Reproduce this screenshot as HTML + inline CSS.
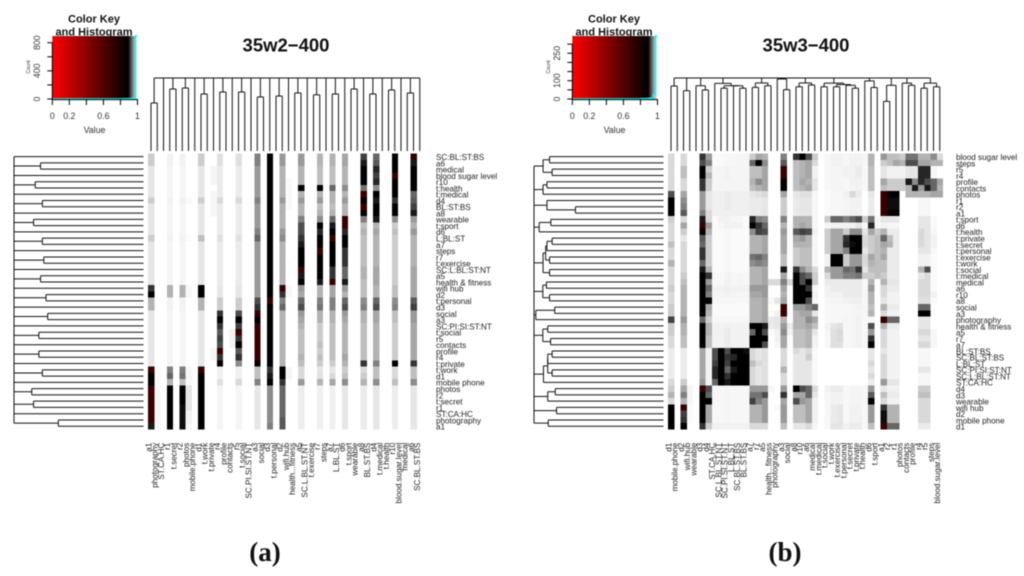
<!DOCTYPE html>
<html>
<head>
<meta charset="utf-8">
<title>35w2-400 and 35w3-400 heatmaps</title>
<style>
html,body{margin:0;padding:0;background:#fff;}
svg{display:block;font-family:"Liberation Sans",sans-serif;filter:blur(0.4px);}
.lab{font-size:8.1px;fill:#222;}
.tk{font-size:8.8px;fill:#333;}
.ttl{font-size:11px;font-weight:bold;fill:#111;text-anchor:middle;}
.main{font-size:18.5px;font-weight:bold;fill:#111;text-anchor:middle;}
.cap{font-family:"Liberation Serif",serif;font-size:27px;font-weight:bold;fill:#111;text-anchor:middle;}
</style>
</head>
<body>
<svg id="fig" width="1024" height="576" viewBox="0 0 1024 576" xmlns="http://www.w3.org/2000/svg">
<defs>
<linearGradient id="keyGrad" x1="0" x2="1" y1="0" y2="0">
<stop offset="0" stop-color="#ff0000"/><stop offset="0.89" stop-color="#000000"/><stop offset="1" stop-color="#ffffff"/>
</linearGradient>
</defs>
<text class="cap" x="265" y="561">(a)</text>
<text class="cap" x="785" y="561">(b)</text>
</svg>
<script>
// ---------- labels ----------
const rowLabelsA = ["SC:BL:ST:BS","a6","medical","blood sugar level","r10","t:health","t:medical","d4","BL:ST:BS","a8","wearable","t:sport","d6","L:BL:ST","a7","steps","r7","t:exercise","SC:L:BL:ST:NT","a5","health & fitness","wifi hub","d2","t:personal","d3","social","a3","SC:PI:SI:ST:NT","t:social","r5","contacts","profile","r4","t:private","t:work","d1","mobile phone","photos","r2","t:secret","r1","ST:CA:HC","photography","a1"];
const colLabelsA = ["a1","photography","ST.CA.HC","r1","t.secret","r2","photos","mobile.phone","d1","t.work","t.private","r4","profile","contacts","r5","t.social","SC.PI.SI.ST.NT","a3","social","d3","t.personal","d2","wifi.hub","health...fitness","a5","SC.L.BL.ST.NT","t.exercise","r7","steps","a7","L.BL.ST","d6","t.sport","wearable","a8","BL.ST.BS","d4","t.medical","t.health","r10","blood.sugar.level","medical","a6","SC.BL.ST.BS"];
const rowLabelsB = ["blood sugar level","steps","r5","r4","profile","contacts","photos","r1","r2","a1","t:sport","d6","t:health","t:private","t:secret","t:personal","t:exercise","t:work","t:social","t:medical","medical","a6","r10","a8","social","a3","photography","health & fitness","a5","r7","a7","BL:ST:BS","SC:BL:ST:BS","L:BL:ST","SC:PI:SI:ST:NT","SC:L:BL:ST:NT","ST:CA:HC","d4","d3","wearable","wifi hub","d2","mobile phone","d1"];
const colLabelsB = ["d1","mobile.phone","d2","wifi.hub","wearable","d3","d4","ST.CA.HC","SC.L.BL.ST.NT","SC.PI.SI.ST.NT","L.BL.ST","SC.BL.ST.BS","BL.ST.BS","a7","r7","a5","health...fitness","photography","a3","social","a8","r10","a6","medical","t.medical","t.social","t.work","t.exercise","t.personal","t.secret","t.private","t.health","d6","t.sport","a1","r2","r1","photos","contacts","profile","r4","r5","steps","blood.sugar.level"];

// ---------- heatmap A: darkness per column (0 white .. 10 black, 11 dark red) ----------
const heatColumnsA = [0,1,3,5,6,8,10,11,13,14,17,19,21,22,24,27,29,31,34,36,39,42];
const heatValuesA = [
[2,2,1,1,1,1,1,2,1,1,1,1,1,2,1,1,1,1,1,1,1,8,10,3,3,1,1,1,1,1,1,1,1,1,11,10,10,11,11,11,11,11,11,9],
[0,0,0,0,0,0,0,0,0,0,0,0,0,0,0,0,0,0,0,0,0,0,0,0,0,0,0,0,0,0,0,0,0,0,.3,.3,.3,.3,.3,.3,.3,.3,.3,.3],
[.5,.5,.4,.4,.4,.4,.4,.5,.4,.4,.4,.4,.4,.5,.4,.4,.4,.4,.4,.4,.4,3,3,.5,.5,.4,.4,.4,.4,.4,.4,.4,.4,.4,5,6,3,10,10,10,10,10,10,10],
[.5,.5,.4,.4,.4,.4,.4,.6,.4,.4,.4,.4,.4,.5,.4,.4,.4,.4,.4,.4,.4,3,3,.5,.5,.4,.4,.4,.4,.4,.4,.4,.4,.4,5,5.5,2.5,10,10,10,9.5,9.5,9.5,9.5],
[0,0,0,0,0,0,0,.2,0,0,0,0,0,.2,0,0,0,0,0,0,0,.3,.3,0,0,0,0,0,0,0,0,0,0,0,.3,.3,.3,1,1,1,1,.5,.5,.4],
[2,2,1,1,1,1,1,2,1,1,1,1,1,2.5,1,1,1,1,1,1,1,10,10,3,3,1,1,1,1,1,1,1,1,1,11,10,10,10,10,10,10,10,10,10],
[0,0,.4,.4,.4,0,.3,.3,.3,.3,0,0,0,0,0,0,0,0,0,0,0,0,0,0,0,0,0,0,0,0,0,.3,.4,0,0,0,0,0,0,0,0,0,0,0],
[1.2,1.2,.8,.8,.8,.8,.8,1.5,.8,.8,.8,.8,.8,1.2,.8,.8,.8,.8,.8,.8,.8,1,1,2,2,8,10,8,6.5,7.5,7,11,8,10,.6,.6,1.2,.4,.4,.4,.4,.4,.4,.4],
[0,0,0,0,0,0,0,0,0,0,0,0,0,0,0,0,0,0,0,0,0,0,0,0,0,0,0,0,.5,.5,.5,0,0,0,0,0,0,0,0,0,0,0,0,0],
[1.2,1.2,.8,.8,.8,.8,.8,1.5,.8,.8,.8,.8,.8,1.2,.8,.8,.8,.8,.8,.8,.8,1,1,2,2,7,10,7.5,11,8,10,6.5,8,4.5,.6,.6,1.5,.4,.4,.4,.4,.4,.4,.4],
[5,5,4,4,4,4,4,5,4,4,4,4,5,6,4,4,4,4,4,4,4,4,4,7,8,11,10,11,11,11,11,11,11,10,2.5,2.5,5,1,1,1,1,1,1,1],
[10,10,10,10,10,10,10,10,10,10,10,10,10,10,10,10,10,10,10,10,10,10,10,11,10,10,10,10,10,10,10,10,10,10,8,9,10,4.5,4.5,4.5,4.5,4.5,4.5,5],
[4,4,3,3,3,3,3,4,3,3,3,3,4,4.5,3,3,3,3,3,3,3,11,8,5,6,3,3,3,3,3,3,3,3,3,10,10,8,6,6,6,6,6,6.5,6.5],
[0,0,0,0,.2,.2,.2,.2,.2,0,0,0,0,0,0,0,0,0,0,0,0,.3,.3,0,0,0,0,0,0,0,0,0,0,0,.4,.4,0,0,0,0,0,0,0,0],
[4,4,3,3,3,10,3,4,3,3,5,7,7,8,9,10,10,10,11,9,10,4,3.5,6,7,4,3.5,3,2.5,2.5,2.5,2.5,3,2.5,1.5,1.5,4,.7,.7,.7,.7,.7,.7,.7],
[3,3,2.5,2.5,2.5,10,3,4,2.5,3,4.5,10,8.5,10,10,11,10,10,10,10,9,3,3,5,5.5,3,3,2,2,2,2.5,2,2.5,2,1,1.2,3,.6,.6,.6,.6,.6,.6,.6],
[3,3,2.5,2.5,2.5,6,3,3,2.5,3,6,9,10,11,10,10,10,10,8,8,11,3.5,3.5,5,5,3,3,2.5,2.5,2.5,2.5,2.5,2.5,2,1,1.5,3.5,.6,.6,.6,.6,.6,.6,.6],
[3.5,3.5,3,3,3,4.5,3,4,3,3,11,11,8.5,10,10,8,8,8,6,6,9,4,3,6,7,4,3.5,3,3,3,3,3,3.5,3,2,2.5,4.5,1,1,1,1,1,1,1],
[7.5,9,10,10,10,5.5,11,10,11,10,5,2.5,3,2.5,2.5,2.5,2.5,2.5,3,3,2.5,2.5,2.5,4.5,5,3,3,2.5,2.5,2.5,2.5,2.5,2.5,8,1.5,2,3,.8,.8,.8,.8,.8,.8,.8],
[6,6.5,8.5,7.5,8.5,4.5,10,9,10,10,9,3,3.5,3,3,3,3,3,3.5,3.5,3.5,3,3,6,7,3.5,3.5,3,3,3,3,3,3,5,2.5,2.5,4.5,1,1,1,1,1,1,1],
[10,10,10,11,10,10,10,8,10,10,4.5,2,2.5,2,2,2,2,2,2,2,2,2.5,2.5,4.5,5,2.5,2.5,2,2,2,2,2,2,10,1.5,1.5,2.5,.7,.7,.7,.7,.7,.7,.7],
[11,9,10,10,10,10,6,6.5,7.5,9,4,3,4,3,3,3,3,3,3.5,3.5,3.5,3.5,3.5,6.5,7.5,4,4,3.5,3.5,3.5,3.5,3.5,3.5,8,2.5,2.5,4.5,1,1,1,1,1,1,1]
];

// ---------- heatmap B: darkness per column ----------
const heatColumnsB = [0,2,3,5,6,7,8,9,10,11,12,13,14,15,16,17,18,19,20,21,22,23,25,26,27,28,29,30,31,32,33,34,35,36,37,38,39,40,41,42,43];
const heatValuesB = [
[1.5,1.5,1.5,1.5,1.5,1.5,7,10,10,10,2,1.5,1.5,1.5,2.5,1.5,1.5,3,1.5,1.5,1.5,2,1.5,1.5,2,2,7.5,2,2,1.5,1.5,.8,.8,.8,.8,.8,1.5,2,3,1.5,10,10,10,10],
[1.5,1.5,2.5,2.5,1.5,1.5,3.5,4.5,5,6.5,1.5,3.5,2,1,1.5,1.5,1.5,1.5,1.5,2,2.5,3,3,3,3,3,4,3,3,2.5,2.5,.8,.8,.8,.8,.8,2,3.5,5,3,11,7.5,8,10],
[0,0,0,0,0,0,0,0,0,0,0,0,0,0,0,0,0,0,0,0,0,0,0,0,0,0,0,0,0,0,0,0,0,0,0,0,0,.4,.4,.4,.2,.2,.2,0],
[8,7,10,10,8,8,4,4,4,5,9,11,10,6.5,6,8,8,6,9,10,10,10,10,10,10,10,6,10,10,10,10,3.5,3.5,3.5,3.5,3.5,4,11,10,10,10,10,10,8],
[4,5,2,3,2,2,1,1,1,1.5,1.5,4,3,2,2,2,2,2,3,8,4,6,5,10,3.5,3,2,3,3,2.5,2.5,.5,.5,.5,.5,.5,.5,7,6,10,3.5,3.5,3.5,2],
[.2,.2,.4,.4,.4,.4,.6,.6,.6,.6,.2,.2,.2,.2,.2,.2,.2,.2,.2,.3,.3,.5,.4,.3,.2,.2,.3,.5,.5,.5,.5,7,7,7.5,8.5,8.5,6,.3,.3,.3,.3,.3,.3,.5],
[.2,.2,.4,.4,.4,.4,.6,.6,.6,.6,.5,.3,.2,.2,.2,.2,.2,.2,.2,.3,.3,.5,.4,.3,.2,.2,.3,.5,.5,.5,.5,10,10,10,10,10,10,.3,.3,.3,.3,.3,.3,.5],
[.3,.3,.5,.5,.4,.4,.8,.8,.8,.6,.5,.5,.3,.3,.3,.3,.3,.3,.3,.5,.5,.6,.5,.3,.2,.2,.3,.6,.8,.8,.8,7,8,7.5,6,8,9,.4,.4,.4,.4,.4,.4,.5],
[.3,.3,.4,.4,.4,.4,.6,.6,.6,.6,.3,.5,.2,.2,.2,.2,.2,.2,.2,.3,.3,.5,.4,.3,.2,.2,.3,.5,.5,.5,.5,10,8.5,10,9,10,10,.3,.3,.3,.3,.3,.3,.5],
[.4,.4,.4,.4,.4,.4,.6,.6,.6,.6,.3,.5,.2,.2,.2,.2,.2,.2,.2,.4,.4,.5,.4,.3,.2,.2,.3,.5,.5,.5,.5,10,10,10,10,10,10,.3,.3,.3,.3,.3,.3,.5],
[.4,.4,.4,.4,.4,.4,.6,.6,.6,.6,.2,.2,.2,.2,.2,.2,.2,.2,.2,.3,.3,.5,.4,.3,.2,.2,.3,.5,.5,.5,.5,9.5,10,10,10,10,10,.3,.3,.3,.3,.3,.3,.5],
[2,6,2.5,2.5,3,2.5,1,.8,.8,.8,8.5,10,4.5,3,3,3,5.5,4.5,3,3,3,4,3.5,3,3,3,3,10,6,10,10,1.5,1.5,2.5,1.5,1.5,1.5,4,5.5,7.5,3,3,3,1.5],
[3.5,10,2.5,2.5,4.5,3,1.2,.8,.8,.8,5,8,7.5,3,3,3,6,5,3,3,3,4,3.5,3,3,3,3,10,10,10,10,1,1,1.5,1,1,1,4,5.5,5,3,3,3,1.5],
[3,4.5,3.5,3.5,3.5,3.5,1.5,1,1,1,4.5,6,7,3.5,3.5,3.5,5,4.5,3.5,3.5,3.5,4,4,3.5,3.5,3.5,3.5,9,7,10,7,1.2,1.2,1.2,1.2,1.2,1.2,4,7,4,4,4,4,1.5],
[0,0,0,0,0,0,0,0,0,0,0,0,0,0,0,0,0,0,0,0,1.5,0,0,.3,0,.2,.8,.8,.2,0,0,0,0,0,0,0,0,.3,0,0,0,0,0,0],
[0,0,0,0,0,0,0,0,0,0,0,0,0,0,0,0,0,0,0,0,1.5,0,0,1,0,.5,1,1,.5,.5,.3,0,0,0,0,0,0,0,0,0,.2,0,0,0],
[5,6.5,11,11,10,10,3.5,2,2,2,5,3,4,3.5,3.5,3.5,2.5,2.5,9,3.5,5,3.5,3,3.5,11,11,3,4,4.5,3.5,3.5,1.5,1.5,1.5,3,1.5,1.5,4,8,3.5,4,4,4,2.5],
[0,0,0,0,0,0,0,0,0,0,0,0,0,0,0,0,0,0,0,0,1.5,0,0,0,0,0,0,.8,.5,0,0,0,0,0,0,0,0,0,0,0,0,0,0,0],
[8,2.5,2.5,2.5,2.5,2.5,1,.8,.8,.8,3,3,6.5,3.5,3,2,2,2,8,10,10,10,10,10,4,3,3,3,2.5,2.5,2.5,1.5,1,1,1,1,1,10,3.5,7,2.5,2.5,2.5,1],
[10,3,3,3,3.5,3,1.2,1,1,1,3,3.5,7.5,4,3,2.5,2.5,2.5,4.5,7,7,10,10,10,4,3.5,3,3,2.5,2.5,2.5,1,1,1,1,1,1,7,3.5,4,2.5,2.5,2.5,1],
[7,3.5,3.5,3.5,3,3.5,1.2,1,1,1,3,3,7,3,3,2.5,2.5,2.5,3,6,10,8,10,7,5,3.5,4.5,3.5,3,3,3,1.5,2,1,1,1,1,6,6,3.5,3.5,3.5,3.5,1.5],
[2,1.5,.5,.5,1,1,.3,.3,.3,.3,.3,.3,.5,.3,.3,.3,.3,.3,1.5,2,2,.3,.5,.3,6,1,3.5,2.5,1,.5,.5,.2,.2,.2,.2,.2,.2,1.5,1,.5,.5,.5,.5,.3],
[.3,.3,.3,.3,.3,.3,.2,.2,.2,.2,2,.4,2,2,2,2,.5,.5,3,1.5,.8,.5,.5,.3,.3,.3,.3,.5,.3,.3,.3,0,0,0,0,0,0,.5,.3,.3,.3,.3,.3,.3],
[.5,.5,.4,.4,.4,.4,.3,.3,.3,.3,6,.5,3.5,3.5,3.5,3.5,10,10,4,4,.8,.8,.5,.4,.3,.3,.3,1,1.2,1.2,1.2,0,0,0,0,0,0,.8,.5,.5,.8,.8,.8,1],
[.5,.5,.4,.4,.4,.4,.3,.3,.3,.3,6,.5,3.5,3.5,3.5,3.5,10,10,4,4,.8,.8,.5,.4,.3,.3,.3,1.2,1.5,1.5,1.2,0,0,0,0,0,0,.8,.5,.5,1,1,1,1],
[.3,.3,.5,.5,.3,.3,.5,.4,.4,.4,5,.5,2,8,8.5,5,2,2,6,5,.8,.8,.8,.5,.3,.3,.4,.3,.3,.3,.3,0,0,0,0,0,0,.3,.3,.3,.3,.3,.3,.5],
[.5,.5,.5,.5,.5,.4,1.5,.5,.5,.5,6,.5,4.5,10,9.5,10,4,4,5.5,5,.8,.8,.8,.6,.4,.4,.4,.4,.4,.4,.4,0,0,0,0,0,0,.4,.4,.4,.5,.5,.5,.8],
[.5,.5,.8,.8,.5,.5,.8,.5,.5,.5,7,1,4.5,10,10,10,4,4,8,5.5,.8,.8,.8,.6,.5,.4,.5,.5,.5,.5,.5,0,0,0,0,0,0,.4,.4,.4,.5,.5,.5,.8],
[.3,.3,.3,.3,.3,.3,0,0,0,0,2,.3,1,1.5,1.5,1,1.5,1.5,1,2,.3,.3,.3,.3,.3,.3,.3,.3,.3,.3,.3,0,0,0,0,0,0,.3,.3,.3,.3,.3,.3,.3],
[3,3,2.5,2.5,2.5,2.5,1,.8,.8,.8,5.5,8.5,3.5,2,2,2,3.5,3,2.5,2,3,4,3,3,2.5,3,.3,7,4,8,10,1,1,1.5,1,1.5,.8,4,6.5,10,4,4,4,2.5],
[0,0,0,0,0,0,0,0,0,0,.3,.3,2,2.5,2.5,2.5,2.5,2.5,2.5,2.5,0,0,0,0,0,0,0,0,0,0,0,0,0,0,0,0,0,0,0,0,0,0,0,0],
[4,2,1,1,3.5,2.5,11,11,11,11,1,.5,3,6,3.5,3,3.5,2.5,2.5,2,3,1.5,1.5,1,3,1.5,11,3,1.5,1.5,1.5,1,1.5,1.5,1.5,1.5,4,1,2.5,1.5,8,9.5,9.5,11],
[2.5,2.5,.5,.5,2,2,10,9.5,9.5,10,1,.3,.8,2.5,3,.8,.8,.8,.8,.8,1,.8,.5,.5,.8,.5,6,.8,.5,.5,.5,.5,.5,.5,.5,.5,1,.5,.8,.5,3,3,3,6],
[2.5,3.5,.5,.5,2,2,10,9.5,9.5,10,1,.3,.8,.8,.8,.8,.8,.8,.8,.8,1,.8,.5,.5,.8,.5,6,.8,.5,.5,.5,.5,.5,.5,.5,.5,1,.5,.8,.5,3,3,3,6],
[2,3,.5,.5,2,2,0,0,0,0,0,0,0,0,0,0,0,0,0,0,0,0,0,0,0,0,0,0,0,0,0,0,0,0,0,0,0,0,0,0,0,0,0,0],
[5.5,7,1,1,9,3,3,0,0,0,0,0,0,0,0,0,0,0,0,0,0,0,0,0,0,0,0,0,0,0,0,0,0,0,0,0,0,0,0,0,0,0,0,0],
[5.5,7,1,1,4.5,9,3,0,0,0,0,0,0,0,0,0,0,0,0,0,0,0,0,0,0,0,0,0,0,0,0,0,0,0,0,0,0,0,0,0,0,0,0,0],
[3,3.5,8.5,8.5,8.5,4,3,.3,.3,.3,1,1,1.5,1.5,1.5,1,.5,.5,3,1,1.5,1.5,1.5,1.2,6,10,1,1,1.5,1,1.5,.3,.3,.3,1,.3,.3,2,2.5,1.5,1.5,1.5,1.5,.8],
[3,3.5,8.5,8.5,7,9,3,.3,.3,.3,1,1,1,1,1,1,.5,.5,7,1.5,1.5,1.5,1.5,1.2,6,10,1,1,1.5,1,1.5,.3,.3,.3,1,.3,.3,2,2.5,1.5,1.5,1.5,1.5,.8],
[4.5,3,.3,.3,6,6,3.5,0,0,0,.2,.2,.3,.5,.5,.3,.2,.2,.2,.2,.2,.2,.5,.2,0,.2,0,0,.3,.3,.3,0,0,0,0,0,0,0,0,0,0,0,0,0],
[1.5,3,0,0,3.5,3,3.5,0,0,0,0,0,0,0,0,0,0,0,0,0,0,0,0,0,0,0,0,0,0,0,0,0,0,0,0,0,0,0,0,0,0,0]
];

// ---------- dendrograms: [height, child, child, ...], a bare number is a leaf ----------
const treeA = [1,
 [.658,0,1],2,[.849,3,4],[.863,5,6],7,[.781,8,9],10,[.808,11,12],13,[.808,14,15],16,[.74,17,18],19,
 [.753,20,21],22,[.795,23,24],25,[.77,26,27],28,[.781,29,30],31,[.849,32,33],34,[.781,35,36],37,
 [.836,38,39],40,[.795,41,42],43];
const treeB = [1,
 [.89,0,1],[.826,2,3],[.894,4,[.836,5,6]],
 [.927,7,[.894,[.86,8,9],[.894,10,[.86,11,12]]]],
 [.932,[.872,13,14],[.894,15,16]],
 [.986,17,[.84,18,19]],
 [.932,[.88,20,21],[.904,22,23]],
 [.93,[.88,24,25],[.91,[.88,26,27],[.9,28,[.86,29,30]]]],
 [.96,31,[.87,32,33]],
 [.9,[.68,34,35],36],
 [.93,37,[.9,38,39]],
 [.93,[.86,40,41],[.88,42,43]]];

// ---------- colour-key histogram ----------
const histCountsA = [2,2,2,2,2,2,2,2,2,2,2,2,2,2,2,2,2,2,2,2,2,2,2,2,2,2,2,2,3,3,3,3,3,4,4,5,6,8,14,900];
const histCountsB = [1,1,1,1,1,1,1,1,1,1,1,1,1,1,1,1,1,1,1,1,1,1,1,1,1,1,1,1,1,1,1,1,2,2,2,3,4,6,25,345];
const countTicksA = [0,200,400,600,800];
const countTicksB = [0,50,100,150,200,250,300];
const countLabelsA = [0,400,800];
const countLabelsB = [0,100,250];
const valueTicks = [0,.2,.4,.6,.8,1];
const valueLabels = [0,.2,.6,1];

const NS = "http://www.w3.org/2000/svg";
const svg = document.getElementById("fig");
function mk(tag, attrs, parent){
  const el = document.createElementNS(NS, tag);
  for (const k in attrs) el.setAttribute(k, attrs[k]);
  (parent || svg).appendChild(el);
  return el;
}
function levelColor(l){
  if (l > 10) return "#3a0000";
  const g = Math.round(255 * (1 - l / 10));
  return "rgb(" + g + "," + g + "," + g + ")";
}
const ROW_TOP = 153.5, ROW_H = 6.27, COL_W = 6.25;
function leafX(off, i){ return off + 151 + COL_W * i; }
function leafY(i){ return ROW_TOP + ROW_H * (43 - i) + ROW_H / 2; }
function topY(h){ return 151 - 73 * h; }
function sideX(off, h){ return off + 143.5 - 129.5 * h; }

function drawTree(node, off, g){
  if (typeof node === "number") return {pos: node};
  const kids = node.slice(1).map(function(c){ return {node: c, r: drawTree(c, off, g)}; });
  const h = node[0];
  const ps = [];
  kids.forEach(function(k){
    const kh = typeof k.node === "number" ? 0 : k.node[0];
    mk("line", {x1: leafX(off, k.r.pos), x2: leafX(off, k.r.pos), y1: topY(h), y2: topY(kh), stroke: "#111", "stroke-width": 1}, g.top);
    const kx = sideX(off, kh), hx = sideX(off, h);
    const yy = ROW_TOP + ROW_H * (43 - k.r.pos) + ROW_H / 2;
    mk("line", {x1: hx, x2: kx, y1: yy, y2: yy, stroke: "#111", "stroke-width": 1}, g.side);
    ps.push(k.r.pos);
  });
  const lo = Math.min.apply(null, ps), hi = Math.max.apply(null, ps);
  mk("line", {x1: leafX(off, lo), x2: leafX(off, hi), y1: topY(h), y2: topY(h), stroke: "#111", "stroke-width": 1}, g.top);
  mk("line", {x1: sideX(off, h), x2: sideX(off, h), y1: leafY(lo), y2: leafY(hi), stroke: "#111", "stroke-width": 1}, g.side);
  return {pos: (lo + hi) / 2};
}

function drawPanel(off, cfg){
  const p = mk("g", {});
  
  

  // titles
  const t1 = mk("text", {x: off + 94, y: 22.7, class: "ttl"}, p);
  t1.textContent = "Color Key";
  
  
  const t2 = mk("text", {x: off + 94, y: 35.5, class: "ttl"}, p);
  t2.textContent = "and Histogram";
  
  
  const main = mk("text", {x: off + 286, y: 51.5, class: "main"}, p);
  main.textContent = cfg.title;
  
  

  // colour key
  const KX = off + 52.3, KW = 85.2, KB = 99;
  const valX = function(v){ return KX + KW * v; };
  const cntY = function(c){ return Math.max(36, KB - cfg.countScale * c); };
  const key = mk("rect", {x: KX, y: 36, width: KW, height: 63, fill: "url(#keyGrad)"}, p);
  
  
  let d = "M" + KX + " " + KB;
  cfg.hist.forEach(function(c, i){
    const x0 = valX(i / cfg.hist.length), x1 = valX((i + 1) / cfg.hist.length);
    d += " L" + x0 + " " + cntY(c) + " L" + x1 + " " + cntY(c);
  });
  const hl = mk("path", {d: d, fill: "none", stroke: "#00ffff", "stroke-width": 1.4}, p);
  
  

  const axY = mk("g", {}, p);
  
  
  mk("line", {x1: KX, x2: KX, y1: KB, y2: cntY(cfg.ticks[cfg.ticks.length - 1]), stroke: "#000"}, axY);
  cfg.ticks.forEach(function(c){
    mk("line", {x1: KX - 5, x2: KX, y1: cntY(c), y2: cntY(c), stroke: "#000"}, axY);
  });
  cfg.tickLabels.forEach(function(c){
    const t = mk("text", {class: "tk", "text-anchor": "middle", transform: "translate(" + (off + 40) + "," + cntY(c) + ") rotate(-90)"}, axY);
    t.textContent = c;
  });
  const ct = mk("text", {"font-size": 5, fill: "#333", "text-anchor": "middle", transform: "translate(" + (off + 30) + ",67) rotate(-90)"}, p);
  ct.textContent = "Count";
  
  

  const axX = mk("g", {}, p);
  
  
  mk("line", {x1: valX(0), x2: valX(1), y1: KB + .6, y2: KB + .6, stroke: "#000"}, axX);
  valueTicks.forEach(function(v){
    mk("line", {x1: valX(v), x2: valX(v), y1: KB, y2: KB + 6, stroke: "#000"}, axX);
  });
  valueLabels.forEach(function(v){
    const t = mk("text", {class: "tk", "text-anchor": "middle", x: valX(v), y: 119}, axX);
    t.textContent = v;
  });
  const vt = mk("text", {class: "tk", "text-anchor": "middle", x: off + 94.5, y: 133}, p);
  vt.textContent = "Value";
  
  

  // heatmap
  const hg = mk("g", {"shape-rendering": "crispEdges"}, p);
  
  
  cfg.columns.forEach(function(c, ci){
    cfg.values[ci].forEach(function(level, r){
      if (!level) return;
      const cell = mk("rect", {x: off + 148 + COL_W * c, y: ROW_TOP + ROW_H * r, width: COL_W + .1, height: ROW_H + .1, fill: levelColor(level)}, hg);
      
      
    });
  });

  // dendrograms
  const gTop = mk("g", {}, p);
  
  
  const gSide = mk("g", {}, p);
  
  
  drawTree(cfg.tree, off, {top: gTop, side: gSide});

  // labels
  const rl = mk("g", {}, p);
  
  
  cfg.rowLabels.forEach(function(s, r){
    const t = mk("text", {class: "lab", x: off + 436, y: 160 + ROW_H * r}, rl);
    t.textContent = s;
  });
  const cl = mk("g", {}, p);
  
  
  cfg.colLabels.forEach(function(s, i){
    const t = mk("text", {class: "lab", "text-anchor": "end", transform: "translate(" + (off + 151.4 + COL_W * i) + ",442.7) rotate(-90)"}, cl);
    t.textContent = s;
  });
}

drawPanel(0, {name: "w2", title: "35w2\u2212400", columns: heatColumnsA, values: heatValuesA, tree: treeA,
  rowLabels: rowLabelsA, colLabels: colLabelsA, hist: histCountsA, countScale: 0.0704, ticks: countTicksA, tickLabels: countLabelsA});
drawPanel(520, {name: "w3", title: "35w3\u2212400", columns: heatColumnsB, values: heatValuesB, tree: treeB,
  rowLabels: rowLabelsB, colLabels: colLabelsB, hist: histCountsB, countScale: 0.183, ticks: countTicksB, tickLabels: countLabelsB});
</script>
</body>
</html>
